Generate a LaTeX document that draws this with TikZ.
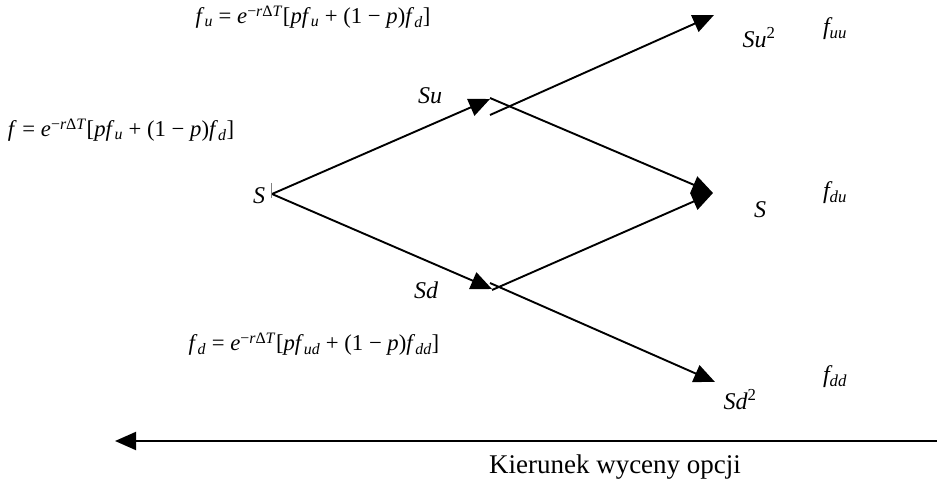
\documentclass[tikz,border=0pt]{standalone}
\usepackage{fontspec}
\setmainfont{Liberation Serif}
\usetikzlibrary{arrows.meta}
\newcommand{\vi}[1]{\textit{#1}}
\newcommand{\sbs}[1]{\textsubscript{\textit{#1}}}
\newcommand{\disc}{\vi{e}\textsuperscript{−\vi{r}Δ\vi{T}}}
\begin{document}
\begin{tikzpicture}[x=1pt,y=-1pt,
  edge/.style={line width=1.9pt,-{Triangle[length=21pt,width=18pt]}},
  lbl/.style={inner sep=0pt,font=\fontsize{24}{26}\selectfont\itshape},
  frm/.style={inner sep=0pt,font=\fontsize{22.7}{26}\selectfont}]
\useasboundingbox (0,0) rectangle (937,489);
% tree points
\coordinate (S) at (272,194);
\coordinate (Su) at (490,99);
\coordinate (Su1) at (490,98);
\coordinate (Su2) at (490,115);
\coordinate (Sd) at (492,289);
\coordinate (Sd1) at (490,283);
\coordinate (Sd2) at (492,290);
\coordinate (Suu) at (714,15);
\coordinate (Sud) at (713,193);
\coordinate (Sdd) at (715,382);
\coordinate (Ar) at (937,441);
\coordinate (Al) at (115,441);
\coordinate (Tt) at (271,183);
\coordinate (Tb) at (271,198);
% edges
\draw[edge] (S) -- (Su);
\draw[edge] (S) -- (Sd);
\draw[edge] (Su1) -- (Sud);
\draw[edge] (Su2) -- (Suu);
\draw[edge] (Sd2) -- (Sud);
\draw[edge] (Sd1) -- (Sdd);
\draw[edge] (Ar) -- (Al);
\draw[line width=0.6pt,black!50] (Tt) -- (Tb);
% labels
\node[lbl] (lS) at (259,196) {S};
\node[lbl] (lSu) at (430,96) {Su};
\node[lbl] (lSd) at (426,290) {Sd};
\node[lbl] (lSuu) at (759,38) {Su\textsuperscript{\upshape 2}};
\node[lbl] (lSud) at (760,210) {S};
\node[lbl] (lSdd) at (740,400) {Sd\textsuperscript{\upshape 2}};
\node[lbl] (fuu) at (835,29) {f\textsubscript{uu}};
\node[lbl] (fdu) at (835,193) {f\textsubscript{du}};
\node[lbl] (fdd) at (835,377) {f\textsubscript{dd}};
% formulas
\node[frm] (Fu) at (313,17) {\vi{f}\sbs{u} = \disc[\vi{pf}\sbs{u} + (1 − \vi{p})\vi{f}\sbs{d}]};
\node[frm] (F) at (121,130) {\vi{f} = \disc[\vi{pf}\sbs{u} + (1 − \vi{p})\vi{f}\sbs{d}]};
\node[frm] (Fd) at (314,344) {\vi{f}\sbs{d} = \disc[\vi{pf}\sbs{ud} + (1 − \vi{p})\vi{f}\sbs{dd}]};
\node[inner sep=0pt,font=\fontsize{27}{30}\selectfont] (K) at (615,467) {Kierunek wyceny opcji};
\end{tikzpicture}
\end{document}
